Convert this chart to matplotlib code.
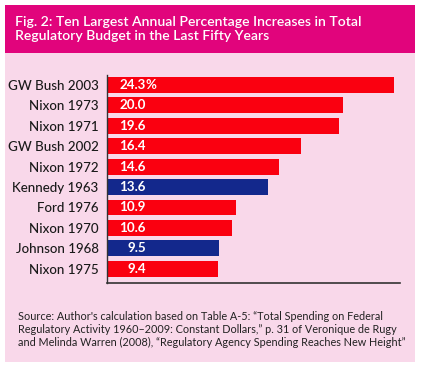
import matplotlib
matplotlib.use("Agg")
import matplotlib.pyplot as plt
from matplotlib.patches import Rectangle

# Datos del gráfico
etiquetas = ["GW Bush 2003", "Nixon 1973", "Nixon 1971", "GW Bush 2002", "Nixon 1972",
             "Kennedy 1963", "Ford 1976", "Nixon 1970", "Johnson 1968", "Nixon 1975"]
valores = [24.3, 20.0, 19.6, 16.4, 14.6, 13.6, 10.9, 10.6, 9.5, 9.4]
textos = ["24.3", "20.0", "19.6", "16.4", "14.6", "13.6", "10.9", "10.6", "9.5", "9.4"]
partido = ["R", "R", "R", "R", "R", "D", "R", "R", "D", "R"]

titulo = "Fig. 2: Ten Largest Annual Percentage Increases in Total\nRegulatory Budget in the Last Fifty Years"
fuente = ("Source: Author's calculation based on Table A-5: \u201cTotal Spending on Federal\n"
          "Regulatory Activity 1960\u20132009: Constant Dollars,\u201d p. 31 of Veronique de Rugy\n"
          "and Melinda Warren (2008), \u201cRegulatory Agency Spending Reaches New Height\u201d")

rojo = "#FA0010"
azul = "#13288C"
magenta = "#E1047C"
rosa = "#F9D8EA"
colores = [rojo if p == "R" else azul for p in partido]

plt.rcParams['font.family'] = ['Lato', 'DejaVu Sans']

W, H = 423, 366
fig = plt.figure(figsize=(W / 100, H / 100), dpi=100)
fig.patch.set_facecolor("white")

# Fondo rosa y banda del título
fig.add_artist(Rectangle((5 / W, 1 - 362 / H), 410 / W, 357 / H,
                         transform=fig.transFigure, facecolor=rosa, edgecolor="none", zorder=-2))
fig.add_artist(Rectangle((5 / W, 1 - 52.5 / H), 410 / W, 47.5 / H,
                         transform=fig.transFigure, facecolor=magenta, edgecolor="none", zorder=-1))

fig.text(15 / W, 1 - 29 / H, titulo, color="white", fontsize=10.1, fontweight="semibold",
         va="center", ha="left", linespacing=1.15)

ax = fig.add_axes([107 / W, 1 - 283 / H, 293 / W, 208.2 / H])
ax.set_facecolor("none")
y = list(range(len(valores)))
ax.barh(y, valores, height=0.78, color=colores)
ax.set_ylim(9.7, -0.5)
ax.set_xlim(0, 24.8)
ax.set_yticks(y)
ax.set_yticklabels(etiquetas, fontsize=9.6, fontweight="medium", color="#1a1a1a")
ax.tick_params(axis="y", length=0, pad=6)
ax.set_xticks([])
for s in ["top", "right"]:
    ax.spines[s].set_visible(False)
ax.spines["left"].set_color("#333333")
ax.spines["bottom"].set_color("#333333")
ax.spines["left"].set_linewidth(1)
ax.spines["bottom"].set_linewidth(1.2)

for i, t in enumerate(textos):
    ax.text(3.3, i, t, color="white", fontsize=9.6, fontweight="bold", ha="right", va="center")
ax.text(3.3, 0, "%", color="white", fontsize=9.6, fontweight="bold", ha="left", va="center")

fig.text(18 / W, 1 - 329.5 / H, fuente, color="#222222", fontsize=7.85, va="center", ha="left",
         linespacing=1.25)

fig.savefig("out.png", dpi=100, facecolor=fig.get_facecolor())
